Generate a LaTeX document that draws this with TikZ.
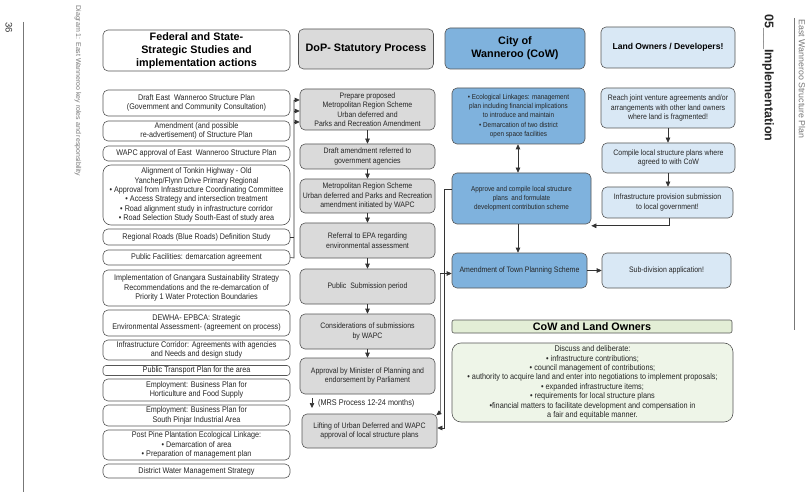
\documentclass[tikz,border=0pt]{standalone}
\usepackage{fontspec}
\setmainfont{Liberation Sans}
\newfontfamily\nar[FakeStretch=0.88]{Liberation Sans}
\usetikzlibrary{arrows.meta,calc}
\definecolor{cowblue}{HTML}{7FB2DD}
\definecolor{lightblue}{HTML}{D9E8F5}
\definecolor{midgray}{HTML}{DADADA}
\definecolor{bargreen}{HTML}{E3EED6}
\definecolor{discgreen}{HTML}{EEF5E8}
\definecolor{edge}{HTML}{555555}
\definecolor{marg}{HTML}{777777}
\tikzset{
  bx/.style={draw=edge, line width=0.6pt, rounded corners=5pt, align=center,
    inner sep=1pt, text=black!85, font=\nar\fontsize{8.2}{9.4}\selectfont},
  lb/.style={bx, fill=white, minimum width=187pt},
  mb/.style={bx, fill=midgray, minimum width=135pt, font=\nar\fontsize{7.9}{9.4}\selectfont},
  cb/.style={bx, fill=cowblue, font=\nar\fontsize{7.2}{9.3}\selectfont},
  db/.style={bx, fill=lightblue, font=\nar\fontsize{7.9}{9.4}\selectfont},
  hd/.style={font=\bfseries\fontsize{10.8}{13}\selectfont, text=black},
  arr/.style={draw=black!80, line width=0.6pt, -{Triangle[length=5pt,width=4.5pt]}},
  darr/.style={draw=black!80, line width=0.6pt, {Triangle[length=5pt,width=4.5pt]}-{Triangle[length=5pt,width=4.5pt]}},
  ln/.style={draw=black!80, line width=0.6pt},
}
\begin{document}
\begin{tikzpicture}[x=1pt,y=-1pt]
\useasboundingbox (0,0) rectangle (812,492);
\fill[white] (0,0) rectangle (812,492);

% margins
\draw[marg, line width=0.6pt] (23,22) -- (23,492);
\node[rotate=-90, text=black!80, font=\fontsize{9.5}{11}\selectfont] (pg) at (9,28) {36};
\node[rotate=-90, text=marg, font=\fontsize{7}{8}\selectfont] (cap) at (78,91) {Diagram 1: East Wanneroo key roles and responsibility};
\draw[marg, line width=0.6pt] (794,18) -- (794,330);
\node[rotate=-90, text=black!85, font=\bfseries\fontsize{12.5}{14}\selectfont] (chap) at (768,78) {05\_\_\_Implementation};
\node[rotate=-90, text=marg, font=\fontsize{8.8}{10}\selectfont] (plan) at (802,79) {East Wanneroo Structure Plan};

% left column
\node[lb, minimum height=41pt, hd] (lhead) at (196.5,50.5) {Federal and State-\\Strategic Studies and\\implementation actions};
\node[lb, minimum height=26pt] (l1) at (196.5,103) {Draft East\ \ Wanneroo Structure Plan\\(Government and Community Consultation)};
\node[lb, minimum height=20pt] (l2) at (196.5,131) {Amendment (and possible\\re-advertisement) of Structure Plan};
\node[lb, minimum height=15pt] (l3) at (196.5,153.5) {WAPC approval of East\ \ Wanneroo Structure Plan};
\node[lb, minimum height=60pt, rounded corners=8pt] (l4) at (196.5,195) {Alignment of Tonkin Highway - Old\\Yanchep/Flynn Drive Primary Regional\\• Approval from Infrastructure Coordinating Committee\\• Access Strategy and intersection treatment\\• Road alignment study in infrastructure corridor\\• Road Selection Study South-East of study area};
\node[lb, minimum height=16pt] (l5) at (196.5,237) {Regional Roads (Blue Roads) Definition Study};
\node[lb, minimum height=15pt] (l6) at (196.5,257.5) {Public Facilities: demarcation agreement};
\node[lb, minimum height=36pt] (l7) at (196.5,288) {Implementation of Gnangara Sustainability Strategy\\Recommendations and the re-demarcation of\\Priority 1 Water Protection Boundaries};
\node[lb, minimum height=26pt] (l8) at (196.5,323) {DEWHA- EPBCA: Strategic\\Environmental Assessment- (agreement on process)};
\node[lb, minimum height=20pt] (l9) at (196.5,350) {Infrastructure Corridor: Agreements with agencies\\and Needs and design study};
\node[lb, minimum height=10pt, inner ysep=0pt, rounded corners=3pt] (l10) at (196.5,370.5) {Public Transport Plan for the area};
\node[lb, minimum height=22pt] (l11) at (196.5,390) {Employment: Business Plan for\\Horticulture and Food Supply};
\node[lb, minimum height=21pt] (l12) at (196.5,415.5) {Employment: Business Plan for\\South Pinjar Industrial Area};
\node[lb, minimum height=30pt] (l13) at (196.5,445) {Post Pine Plantation Ecological Linkage:\\• Demarcation of area\\• Preparation of management plan};
\node[lb, minimum height=14pt] (l14) at (196.5,471) {District Water Management Strategy};

% middle column
\node[mb, minimum height=40pt, hd] (mhead) at (366,49) {DoP- Statutory Process};
\node[mb, minimum height=41pt] (m1) at (367.5,109.5) {Prepare proposed\\Metropolitan Region Scheme\\Urban deferred and\\Parks and Recreation Amendment};
\node[mb, minimum height=25pt] (m2) at (367.5,156.5) {Draft amendment referred to\\government agencies};
\node[mb, minimum height=34pt] (m3) at (367.5,196) {Metropolitan Region Scheme\\Urban deferred and Parks and Recreation\\amendment initiated by WAPC};
\node[mb, minimum height=35pt] (m4) at (367.5,240.5) {Referral to EPA regarding\\environmental assessment};
\node[mb, minimum height=35pt] (m5) at (367.5,286.5) {Public\ \ Submission period};
\node[mb, minimum height=35pt] (m6) at (367.5,331.5) {Considerations of submissions\\by WAPC};
\node[mb, minimum height=36pt] (m7) at (367.5,376) {Approval by Minister of Planning and\\endorsement by Parliament};
\node[mb, minimum height=34pt] (m8) at (369.5,431) {Lifting of Urban Deferred and WAPC\\approval of local structure plans};
\node[anchor=west, inner sep=0pt, text=black!85, font=\nar\fontsize{8.3}{9.4}\selectfont] (mrs) at (318,403) {(MRS Process 12-24 months)};

% CoW column
\node[cb, minimum width=140pt, minimum height=41pt, hd] (chead) at (515,48.5) {City of\\Wanneroo (CoW)};
\node[cb, minimum width=133pt, minimum height=56pt] (c1) at (518.5,116) {• Ecological Linkages: management\\plan including financial implications\\to introduce and maintain\\• Demarcation of two district\\open space facilities};
\node[cb, minimum width=139pt, minimum height=51pt] (c2) at (521.5,198.5) {Approve and compile local structure\\plans\ \ and formulate\\development contribution scheme};
\node[cb, minimum width=135pt, minimum height=35pt, font=\nar\fontsize{7.9}{9.4}\selectfont] (c3) at (519.5,270.5) {Amendment of Town Planning Scheme};

% land owners column
\node[db, minimum width=134pt, minimum height=41pt, font=\bfseries\fontsize{8.6}{10.5}\selectfont, text=black] (dhead) at (668,47.5) {Land Owners / Developers!};
\node[db, minimum width=134pt, minimum height=40pt] (d1) at (668,108) {Reach joint venture agreements and/or\\arrangements with other land owners\\where land is fragmented!};
\node[db, minimum width=133pt, minimum height=30pt] (d2) at (668.5,158) {Compile local structure plans where\\agreed to with CoW};
\node[db, minimum width=131pt, minimum height=31pt] (d3) at (667.5,202.5) {Infrastructure provision submission\\to local government!};
\node[db, minimum width=129pt, minimum height=35pt] (d4) at (666.5,270.5) {Sub-division application!};

% CoW and land owners
\node[bx, fill=bargreen, rounded corners=2pt, minimum width=280pt, minimum height=13pt, inner ysep=0pt, hd] (bar) at (592,326.5) {CoW and Land Owners};
\node[bx, fill=discgreen, rounded corners=9pt, minimum width=281pt, minimum height=79pt, font=\nar\fontsize{8.3}{9.4}\selectfont] (disc) at (592.5,382.5) {Discuss and deliberate:\\• infrastructure contributions;\\• council management of contributions;\\• authority to acquire land and enter into negotiations to implement proposals;\\• expanded infrastructure items;\\• requirements for local structure plans\\•financial matters to facilitate development and compensation in\\a fair and equitable manner.};

% left -> middle connectors
\coordinate (tt) at (294,100);
\coordinate (tm) at (294,111);
\coordinate (tn) at (294,122);
\coordinate (tb) at (294,258);
\draw[ln] (l6.east) -- (tb) -- (tt);
\draw[ln] (l5.east) -- (l5.east -| tb);
\draw[arr] (tt) -- (tt -| m1.west);
\draw[arr] (tm) -- (tm -| m1.west);
\draw[arr] (tn) -- (tn -| m1.west);

% middle chain
\draw[arr] (m1.south) -- (m2.north);
\draw[arr] (m2.south) -- (m3.north);
\draw[arr] (m3.south) -- (m4.north);
\draw[arr] (m4.south) -- (m5.north);
\draw[arr] (m5.south) -- (m6.north);
\draw[arr] (m6.south) -- (m7.north);
\coordinate (ma) at (312,398);
\coordinate (mz) at (312,408);
\draw[arr] (ma) -- (mz);

% CoW connectors
\draw[darr] (c1.south -| 518,0) -- (c2.north -| 518,0);
\draw[arr] (c2.south -| 518,0) -- (c3.north -| 518,0);
\draw[arr] (c3.east) -- (d4.west);
\draw[arr] (d1.south -| 668,0) -- (d2.north -| 668,0);
\draw[arr] (d2.south -| 668,0) -- (d3.north -| 668,0);
\draw[arr] (d3.south -| 669,0) |- ([yshift=-1.5pt]c2.south east);

% CoW -> Lifting
\draw[arr] ([yshift=9pt]c2.west) -- ++(-7,0) |- ([yshift=3pt]m8.east);
\draw[darr] ([xshift=-1pt,yshift=-1.5pt]m8.north east) -- ++(4,-3) |- ([yshift=-3pt]c3.west);
\end{tikzpicture}
\end{document}
